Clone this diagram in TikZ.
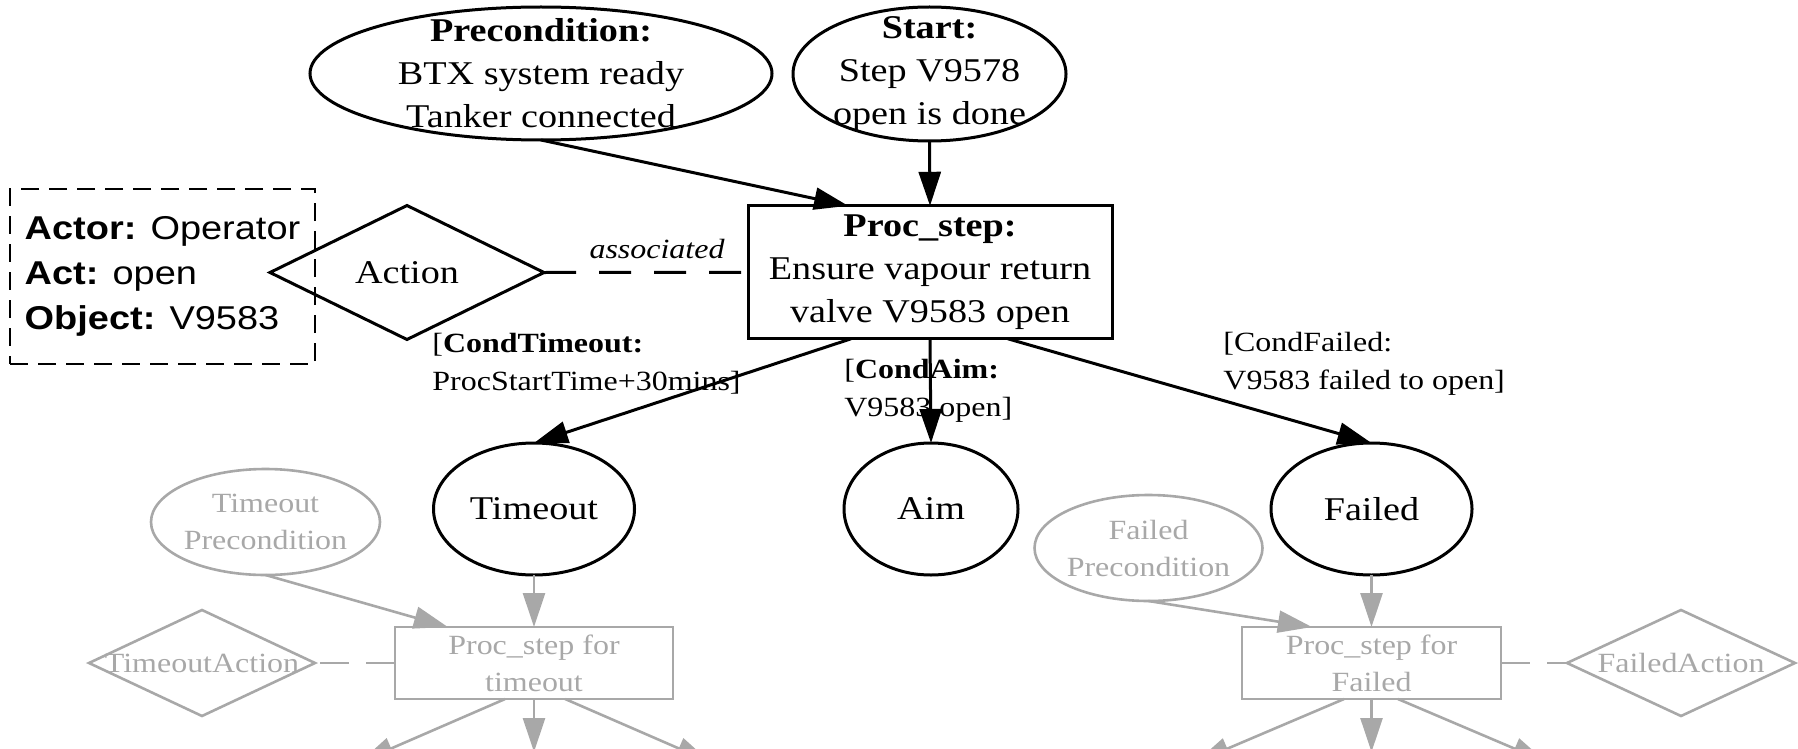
\documentclass[tikz,border=0pt]{standalone}
\usepackage{fontspec}
\setmainfont{Liberation Serif}[FakeStretch=1.15]
\newfontfamily\arialf{Liberation Sans}[FakeStretch=1.15]
\usetikzlibrary{shapes.geometric,arrows.meta,calc}
\definecolor{gv}{HTML}{A8A8A8}
\tikzset{
  mainf/.style={font=\fontsize{16.6}{21.5}\selectfont},
  smallf/.style={font=\fontsize{13.9}{18.5}\selectfont},
  elbl/.style={align=left, inner sep=0pt, font=\fontsize{13.9}{19}\selectfont},
  sansf/.style={font=\arialf\fontsize{16.5}{22.5}\selectfont},
  bk/.style={draw=black, line width=1.5pt},
  gy/.style={draw=gv, line width=1.3pt},
  ell/.style={ellipse, inner sep=0pt, outer sep=0pt},
  dia/.style={diamond, inner sep=0pt, outer sep=0pt},
  pbox/.style={rectangle, inner sep=0pt, outer sep=0pt, align=center},
  lbl/.style={align=center, inner sep=0pt},
  glbl/.style={align=center, inner sep=0pt, text=gv, smallf},
  arr/.style={-{Triangle[length=17pt,width=11pt]}, line width=1.5pt, draw=black, fill=black},
  garr/.style={-{Triangle[length=17pt,width=11pt]}, line width=1.3pt, draw=gv, fill=gv},
  assocline/.style={line width=1.5pt, dash pattern=on 16pt off 11.5pt},
  gassocline/.style={line width=1.3pt, draw=gv, dash pattern=on 14.5pt off 8.5pt},
}
\begin{document}
\begin{tikzpicture}[x=0.5pt,y=-0.5pt]
\useasboundingbox (0,0) rectangle (1798,749);
\clip (0,0) rectangle (1798,749);

% top nodes
\node[ell, bk, minimum width=231pt, minimum height=66.5pt,
  label={[lbl, mainf]center:\textbf{Precondition:}\\BTX system ready\\Tanker connected}] (pre) at (541,73.5) {};
\node[ell, bk, minimum width=136.5pt, minimum height=67pt,
  label={[lbl, mainf]center:\textbf{Start:}\\Step V9578\\open is done}] (start) at (929.5,74) {};
\node[pbox, bk, minimum width=182pt, minimum height=66.5pt, mainf] (proc) at (930,272.3)
  {\textbf{Proc\_step:}\\Ensure vapour return\\valve V9583 open};
\node[dia, bk, minimum width=137pt, minimum height=67pt,
  label={[lbl, mainf]center:Action}] (act) at (407,272.5) {};
\node[rectangle, draw, line width=1.1pt, dash pattern=on 9pt off 5pt, inner xsep=0pt, inner ysep=0pt,
  minimum width=152.5pt, minimum height=87.5pt, align=left, sansf] (actor) at (162.5,276.5)
  {\textbf{Actor:} Operator\\\textbf{Act:} open\\\textbf{Object:} V9583};

% middle nodes
\node[ell, bk, minimum width=100.5pt, minimum height=66pt,
  label={[lbl, mainf]center:Timeout}] (timeout) at (534,509) {};
\node[ell, bk, minimum width=87pt, minimum height=66pt,
  label={[lbl, mainf]center:Aim}] (aim) at (931,509) {};
\node[ell, bk, minimum width=100.5pt, minimum height=66pt,
  label={[lbl, mainf]center:Failed}] (failed) at (1371.5,509) {};

% grey nodes
\node[ell, gy, minimum width=114.5pt, minimum height=53pt,
  label={[glbl]center:Timeout\\Precondition}] (tp) at (265.5,522) {};
\node[ell, gy, minimum width=114pt, minimum height=53pt,
  label={[glbl]center:Failed\\Precondition}] (fp) at (1148.5,548) {};
\node[pbox, gy, minimum width=139pt, minimum height=36pt, text=gv, smallf] (pst) at (534,663)
  {Proc\_step for\\timeout};
\node[pbox, gy, minimum width=129.5pt, minimum height=36pt, text=gv, smallf] (psf) at (1371.5,663)
  {Proc\_step for\\Failed};
\node[dia, gy, minimum width=113pt, minimum height=53pt,
  label={[glbl]center:TimeoutAction}] (ta) at (202,663) {};
\node[dia, gy, minimum width=114pt, minimum height=53pt,
  label={[glbl]center:FailedAction}] (fa) at (1681,663) {};

% edge labels
\node[inner sep=0pt, font=\fontsize{13.9}{19}\selectfont\itshape] (assoc) at (657,249) {associated};
\node[elbl, anchor=west] (lto) at (432,364) {[\textbf{CondTimeout:}\\ProcStartTime+30mins]};
\node[elbl, anchor=west] (laim) at (844,391) {[\textbf{CondAim:}\\V9583 open]};
\node[elbl, anchor=west] (lfail) at (1223,364) {[CondFailed:\\V9583 failed to open]};

% free ends at the bottom edge
\coordinate (t1) at (360,762);
\coordinate (t2) at (534,752);
\coordinate (t3) at (710,762);
\coordinate (f1) at (1196,762);
\coordinate (f2) at (1371.5,752);
\coordinate (f3) at (1546,762);

% black connectors
\draw[arr] (pre.south) -- ($(proc.north west)!0.275!(proc.north east)$);
\draw[arr] (start.south) -- (proc.north);
\draw[assocline] (act.east) -- (proc.west);
\draw[arr] ($(proc.south west)!0.283!(proc.south east)$) -- (timeout.north);
\draw[arr] (proc.south) -- (aim.north);
\draw[arr] ($(proc.south west)!0.714!(proc.south east)$) -- (failed.north);

% grey connectors
\draw[garr] (tp.south) -- ($(pst.north west)!0.19!(pst.north east)$);
\draw[garr] (timeout.south) -- (pst.north);
\draw[gassocline] (pst.west) -- (ta.east);
\draw[garr] ($(pst.south west)!0.396!(pst.south east)$) -- (t1);
\draw[garr] (pst.south) -- (t2);
\draw[garr] ($(pst.south west)!0.612!(pst.south east)$) -- (t3);

\draw[garr] (fp.south) -- ($(psf.north west)!0.27!(psf.north east)$);
\draw[garr] (failed.south) -- (psf.north);
\draw[gassocline] (psf.east) -- (fa.west);
\draw[garr] ($(psf.south west)!0.394!(psf.south east)$) -- (f1);
\draw[garr] (psf.south) -- (f2);
\draw[garr] ($(psf.south west)!0.602!(psf.south east)$) -- (f3);
\end{tikzpicture}
\end{document}
